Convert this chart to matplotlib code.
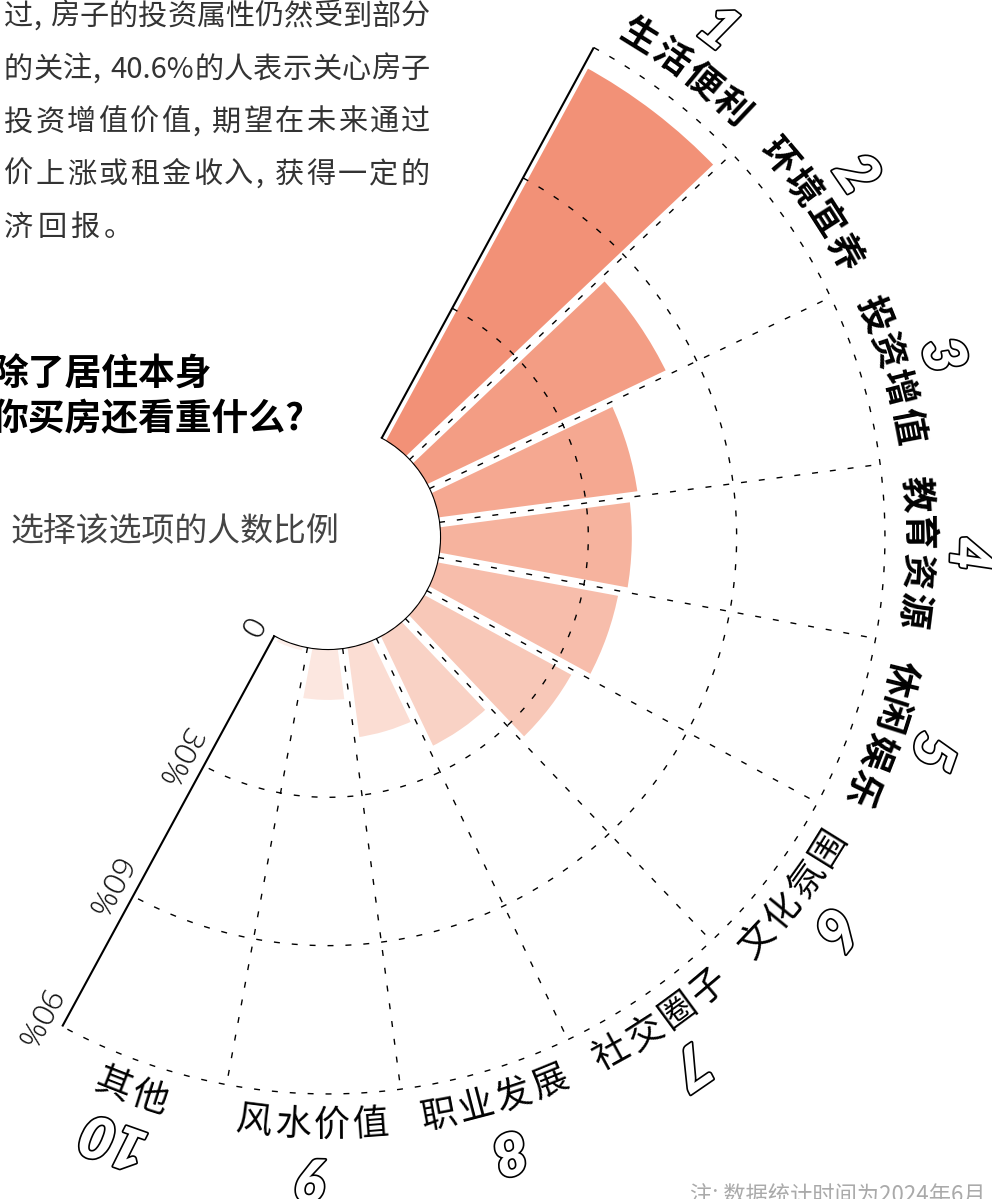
import re
import numpy as np
import matplotlib
matplotlib.use('Agg')
import matplotlib.pyplot as plt
import matplotlib.patheffects as pe

plt.rcParams['font.family'] = ['Noto Sans CJK SC', 'DejaVu Sans']
plt.rcParams['lines.scale_dashes'] = False

# ---------------- data ----------------
categories = ['生活便利', '环境宜养', '投资增值', '教育资源', '休闲娱乐',
              '文化氛围', '社交圈子', '职业发展', '风水价值', '其他']
ranks = ['1', '2', '3', '4', '5', '6', '7', '8', '9', '10']
values = [85.7, 53.5, 40.6, 38.8, 37.2, 33.9, 24.6, 18.3, 10.3, 0.9]
grid_values = [30, 60, 90]
tick_values = [0, 30, 60, 90]
tick_labels = ['0', '30%', '60%', '90%']
bar_colors = ['#f29177', '#f39d84', '#f5a891', '#f6b39e', '#f7bdab',
              '#f8c8b8', '#f9d2c5', '#fbddd3', '#fce7e0', '#fdefea']
title_lines = ['除了居住本身', '你买房还看重什么?']
subtitle = '选择该选项的人数比例'
para_lines = ['过, 房子的投资属性仍然受到部分',
              '的关注, 40.6%的人表示关心房子',
              '投资增值价值, 期望在未来通过',
              '价上涨或租金收入, 获得一定的',
              '济回报。']
note = '注: 数据统计时间为2024年6月'

# ---------------- figure / polar geometry ----------------
W, H, DPI = 992, 1199, 100
fig = plt.figure(figsize=(W / DPI, H / DPI), dpi=DPI)
fig.patch.set_facecolor('white')

CX, CY = 328, 537        # polar centre (px from top-left)
PX = 4.944               # px per percentage point
HOLE = 112 / PX          # inner hole radius in data units
START = 61.5             # screen angle of the first bar edge
STEP = 18.0              # angular width per category
RMAX = 125
R = (RMAX + HOLE) * PX
ax = fig.add_axes([(CX - R) / W, (H - CY - R) / H, 2 * R / W, 2 * R / H],
                  projection='polar')
ax.set_theta_offset(np.deg2rad(START))
ax.set_theta_direction(-1)
ax.set_ylim(0, RMAX)
ax.set_rorigin(-HOLE)
ax.axis('off')
ax.patch.set_alpha(0)

n = len(categories)
edges = np.deg2rad(np.arange(n + 1) * STEP)
centers = (edges[:-1] + edges[1:]) / 2

ax.bar(centers, values, width=np.deg2rad(STEP), bottom=0, color=bar_colors,
       edgecolor='none', zorder=2)

# white gaps between bars
for e in edges:
    ax.plot([e, e], [0, 100], color='white', lw=7.2, solid_capstyle='butt', zorder=3)

dash = (0, (4.3, 8.6))
th = np.linspace(0, np.pi, 600)
for v in grid_values:
    ax.plot(th, np.full_like(th, v), color='black', lw=1.0, ls=dash, zorder=4)
for e in edges[1:-1]:
    ax.plot([e, e], [0, grid_values[-1]], color='black', lw=1.0, ls=dash, zorder=4)

# solid axis lines and inner arc
for e in (edges[0], edges[-1]):
    ax.plot([e, e], [0, grid_values[-1]], color='black', lw=1.5,
            solid_capstyle='butt', zorder=5)
ax.plot(th, np.zeros_like(th), color='black', lw=1.6, zorder=5)

# radial tick labels along the end axis
end_ang = START - 180.0
ux, uy = np.cos(np.deg2rad(end_ang)), np.sin(np.deg2rad(end_ang))
for v, lab in zip(tick_values, tick_labels):
    ax.annotate(lab, xy=(edges[-1], v),
                xytext=(20 * uy + 3 * ux, -20 * ux + 3 * uy),
                textcoords='offset points', rotation=end_ang,
                rotation_mode='anchor', ha='center', va='center',
                fontsize=23, fontweight='light', color='#111111',
                family=['Open Sans', 'DejaVu Sans'], annotation_clip=False)

# category names (curved, char by char) and rank numbers
R_NAME_PX, R_NUM_PX, ADV = 589, 640, 39
r_name = (R_NAME_PX - 112) / PX
r_num = (R_NUM_PX - 112) / PX
d = np.rad2deg(ADV / R_NAME_PX)
for i, (cat, rank, c) in enumerate(zip(categories, ranks, centers)):
    a = START - np.rad2deg(c)
    top = i < 5
    m = len(cat)
    for j, ch in enumerate(cat):
        k = j - (m - 1) / 2
        aj = a - k * d if top else a + k * d
        ax.text(np.deg2rad(START - aj), r_name, ch,
                rotation=(aj - 90) if top else (aj + 90),
                rotation_mode='anchor', ha='center', va='center',
                fontsize=26, fontweight='bold' if top else 'normal',
                color='black', zorder=6)
    ax.text(c, r_num, rank, rotation=a - 90, rotation_mode='anchor',
            ha='center', va='center', fontsize=42, style='italic',
            fontweight='heavy',
            family=['Lato', 'DejaVu Sans'], color='white', zorder=6,
            path_effects=[pe.withStroke(linewidth=2.4, foreground='black')])

# ---------------- texts ----------------
def fx(x):
    return x / W

def fy(y):
    return 1 - y / H

renderer = fig.canvas.get_renderer()

def justified(line, x0, x1, yc, fs, color, justify=True, gap0=4):
    toks = re.findall(r'[0-9.%]+|.', line.replace(' ', ''))
    ws = []
    for t in toks:
        tt = fig.text(0, 0, t, fontsize=fs)
        ws.append(tt.get_window_extent(renderer).width)
        tt.remove()
    bonus = [9 if t in ',，' else 0 for t in toks]
    if justify:
        gap = (x1 - x0 - sum(ws) - sum(bonus)) / (len(toks) - 1)
    else:
        gap = gap0
    x = x0
    for t, w, b in zip(toks, ws, bonus):
        fig.text(fx(x), fy(yc), t, fontsize=fs, color=color, ha='left', va='center')
        x += w + b + gap

para_y = [17, 69.5, 122.5, 175, 228]
for k, (line, y) in enumerate(zip(para_lines, para_y)):
    justified(line, 4, 430, y, 21, '#333333', justify=(k < len(para_lines) - 1))

fig.text(fx(-8), fy(375.5), title_lines[0], fontsize=26.5, fontweight='bold',
         color='black', ha='left', va='center')
fig.text(fx(-8), fy(419.5), title_lines[1], fontsize=26.5, fontweight='bold',
         color='black', ha='left', va='center')
fig.text(fx(11), fy(532), subtitle, fontsize=23.7, fontweight='light',
         color='#444444', ha='left', va='center')
fig.text(fx(690), fy(1196), note, fontsize=16, color='#aaaaaa',
         ha='left', va='center')

fig.savefig('out.png', dpi=DPI, facecolor='white')
